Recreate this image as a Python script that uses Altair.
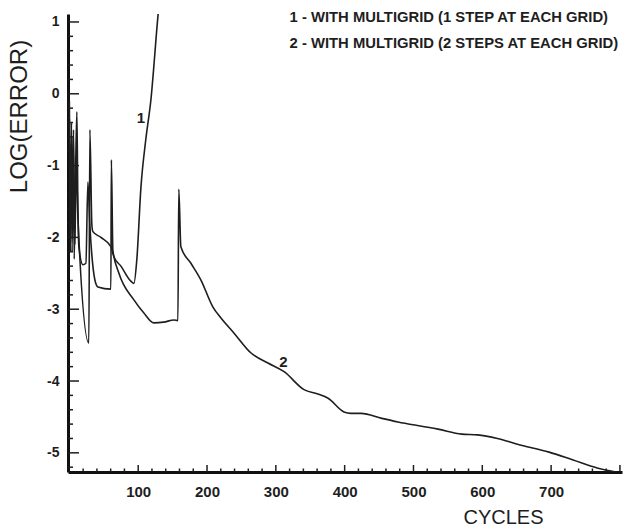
import altair as alt
import pandas as pd

# Convergence history: log10 of the error against multigrid cycles
cycles_1 = [0, 1.5, 3, 4.5, 6, 8, 10, 12.4, 28.3, 29.8, 32.7, 34.2, 45.8, 60.3,
            64.7, 74.9, 89.4, 93.8, 98, 104, 111, 118.4, 128.6, 134]
log_err_1 = [-0.1, -2.2, -0.4, -1.9, -0.5, -2.1, -0.9, -1.72, -3.47, -0.5, -1.83,
             -1.92, -2.0, -2.13, -2.27, -2.4, -2.61, -2.64, -2.31, -1.30, -0.64,
             -0.09, 1.07, 1.6]

cycles_2 = [0, 1, 2.5, 4, 5.5, 7, 9, 10.9, 12.4, 13.8, 19.6, 24, 26.9, 29.8, 37,
            41.4, 60.3, 61, 63.2, 72, 93.8, 108, 122.8, 137, 152, 157.7, 159, 162,
            176.6, 191, 208.6, 220, 239, 264, 288.5, 312, 341, 361, 376, 399, 409,
            424, 454, 477.5, 512, 535.6, 570, 593, 622, 651, 697, 732, 767, 796]
log_err_2 = [-0.35, -2.0, -0.7, -2.2, -0.6, -2.3, -1.1, -0.25, -1.58, -2.13, -2.38,
             -2.36, -1.23, -1.83, -2.59, -2.69, -2.72, -0.92, -2.18, -2.5, -2.87,
             -3.05, -3.19, -3.18, -3.15, -3.16, -1.33, -2.13, -2.36, -2.59, -2.97,
             -3.12, -3.33, -3.61, -3.75, -3.87, -4.12, -4.18, -4.24, -4.43, -4.45,
             -4.45, -4.52, -4.57, -4.63, -4.67, -4.74, -4.75, -4.80, -4.88, -4.99,
             -5.10, -5.21, -5.27]

x_labels = [100, 200, 300, 400, 500, 600, 700]
y_labels = [-5, -4, -3, -2, -1, 0, 1]
x_major = [100, 200, 300, 400, 500, 600, 700, 800]
x_minor = [v for v in range(20, 801, 20) if v % 100 != 0]
y_major = [-5, -4, -3, -2, -1, 0, 1]
y_minor = [round(-5.2 + 0.2 * i, 1) for i in range(32)
           if round((-5.2 + 0.2 * i) % 1, 1) not in (0.0, 1.0)]

legend_lines = ["1 - WITH MULTIGRID (1 STEP AT EACH GRID)",
                "2 - WITH MULTIGRID (2 STEPS AT EACH GRID)"]
legend_x = [320, 320]
legend_y = [1.056, 0.694]
curve_tags = ["1", "2"]
tag_x = [104, 311]
tag_y = [-0.34, -3.74]

FONT = "Liberation Sans"
INK = "#1e1e1e"
W, H = 554, 458
X0, X1 = -2, 803
Y0, Y1 = -5.267, 1.111
PX_PER_X = W / (X1 - X0)
PX_PER_Y = H / (Y1 - Y0)

rows = []
for i, (c, v) in enumerate(zip(cycles_1, log_err_1)):
    rows.append({"x": c, "y": v, "curve": "1", "k": i})
for i, (c, v) in enumerate(zip(cycles_2, log_err_2)):
    rows.append({"x": c, "y": v, "curve": "2", "k": i})
curves = pd.DataFrame(rows)

xscale = alt.Scale(domain=[X0, X1], nice=False, zero=False)
yscale = alt.Scale(domain=[Y0, Y1], nice=False, zero=False)

xaxis = alt.Axis(values=x_labels, ticks=False, tickSize=0, grid=False,
                 domainWidth=3, domainColor="#111",
                 labelFont=FONT, labelFontSize=15, labelFontWeight="bold",
                 labelColor=INK, labelPadding=12,
                 title="CYCLES", titleFont=FONT, titleFontSize=20,
                 titleFontWeight="normal", titleColor=INK,
                 titleX=435, titleY=45, titleBaseline="middle", titleAlign="center")
yaxis = alt.Axis(values=y_labels, ticks=False, tickSize=0, grid=False,
                 domainWidth=3, domainColor="#111",
                 labelFont=FONT, labelFontSize=14, labelFontWeight="bold",
                 labelColor=INK, labelPadding=9,
                 labelExpr="'' + datum.value",
                 title="LOG(ERROR)", titleFont=FONT, titleFontSize=24,
                 titleFontWeight="normal", titleColor=INK, titleAngle=270,
                 titleX=-49, titleY=102, titleBaseline="middle", titleAlign="center")

X = alt.X("x:Q", scale=xscale, axis=xaxis)
Y = alt.Y("y:Q", scale=yscale, axis=yaxis)

lines = alt.Chart(curves).mark_line(
    color=INK, strokeWidth=1.6, clip=True, interpolate="monotone"
).encode(x=X, y=Y, detail="curve:N", order="k:Q")


def xticks(vals, length):
    # inward ticks rising from the bottom axis line
    df = pd.DataFrame({"x": vals, "y": Y0, "y2": Y0 + length / PX_PER_Y})
    return alt.Chart(df).mark_rule(color=INK, strokeWidth=1.5).encode(
        x=alt.X("x:Q", scale=xscale), y=alt.Y("y:Q", scale=yscale), y2="y2:Q")


def yticks(vals, length):
    # inward ticks pointing right from the left axis line
    df = pd.DataFrame({"y": vals, "x": X0, "x2": X0 + length / PX_PER_X})
    return alt.Chart(df).mark_rule(color=INK, strokeWidth=1.5).encode(
        y=alt.Y("y:Q", scale=yscale), x=alt.X("x:Q", scale=xscale), x2="x2:Q")


legend = alt.Chart(pd.DataFrame({"x": legend_x, "y": legend_y, "t": legend_lines})).mark_text(
    font=FONT, fontSize=14.8, fontWeight="bold", color=INK, align="left", baseline="middle"
).encode(x=alt.X("x:Q", scale=xscale), y=alt.Y("y:Q", scale=yscale), text="t:N")

tags = alt.Chart(pd.DataFrame({"x": tag_x, "y": tag_y, "t": curve_tags})).mark_text(
    font=FONT, fontSize=15, fontWeight="bold", color=INK, align="center", baseline="middle"
).encode(x=alt.X("x:Q", scale=xscale), y=alt.Y("y:Q", scale=yscale), text="t:N")

chart = alt.layer(
    lines,
    xticks(x_minor, 3.5), xticks(x_major, 7),
    yticks(y_minor, 5), yticks(y_major, 11),
    legend, tags,
).properties(
    width=W, height=H,
    autosize=alt.AutoSizeParams(type="none"),
    padding={"left": 68, "top": 14, "right": 1, "bottom": 56},
    background="white",
).configure_view(stroke=None)

chart.save("out.html", embed_options={"renderer": "svg", "actions": False})
